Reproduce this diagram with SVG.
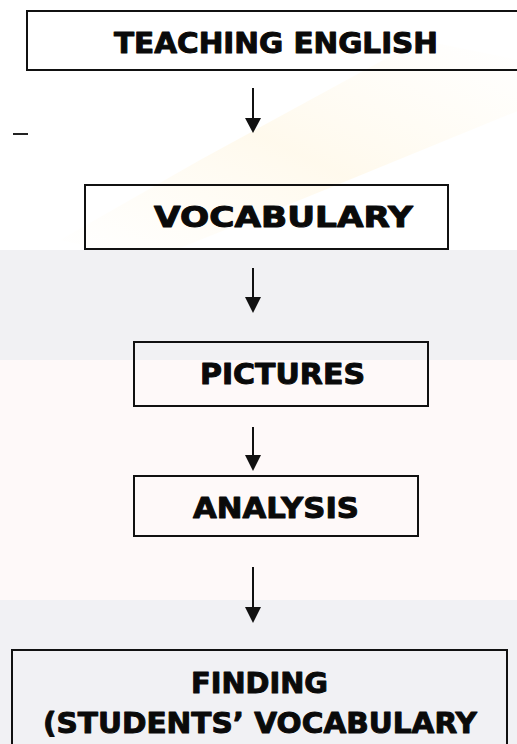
<svg xmlns="http://www.w3.org/2000/svg" width="517" height="744" viewBox="0 0 517 744">
  <defs>
    <style>
      .box { fill: none; stroke: #111; stroke-width: 2; }
      .lbl { font-family: "DejaVu Sans", "Liberation Sans", Arial, sans-serif; font-weight: bold; font-size: 29px; fill: #0a0a0a; stroke: #0a0a0a; stroke-width: 1; stroke-linejoin: round; }
      .conn { stroke: #111; stroke-width: 2; fill: none; }
      .head { fill: #111; }
    </style>
    <linearGradient id="streak" x1="0" y1="1" x2="1" y2="0">
      <stop offset="0" stop-color="#fffaee" stop-opacity="0"/>
      <stop offset="0.5" stop-color="#fff8e8" stop-opacity="0.8"/>
      <stop offset="1" stop-color="#fffaee" stop-opacity="0"/>
    </linearGradient>
  </defs>

  <!-- background watermark (faint) -->
  <g id="background">
    <rect x="0" y="0" width="517" height="744" fill="#ffffff"/>
    <polygon points="60,240 200,160 420,40 520,60 520,110 300,200 150,260" fill="url(#streak)"/>
    <rect x="0" y="250" width="517" height="110" fill="#f1f1f3"/>
    <rect x="0" y="360" width="517" height="240" fill="#fef9f9"/>
    <rect x="0" y="600" width="517" height="144" fill="#f1f1f4"/>
  </g>

  <g id="connectors">
    <line class="conn" x1="253" y1="88" x2="253" y2="119"/>
    <polygon class="head" points="245,118 261,118 253,133"/>
    <line class="conn" x1="253" y1="268" x2="253" y2="298"/>
    <polygon class="head" points="245,297 261,297 253,313"/>
    <line class="conn" x1="253" y1="427" x2="253" y2="456"/>
    <polygon class="head" points="245,455 261,455 253,471"/>
    <line class="conn" x1="253" y1="567" x2="253" y2="608"/>
    <polygon class="head" points="245,607 261,607 253,623"/>
  </g>

  <g id="dash">
    <line x1="13" y1="134" x2="28" y2="134" stroke="#222" stroke-width="2"/>
  </g>

  <g id="node-teaching">
    <rect class="box" x="27" y="11" width="500" height="59"/>
    <text class="lbl" x="114" y="53" textLength="324" lengthAdjust="spacingAndGlyphs">TEACHING ENGLISH</text>
  </g>

  <g id="node-vocabulary">
    <rect class="box" x="85" y="185" width="363" height="64"/>
    <text class="lbl" x="154" y="227" font-size="28" textLength="259" lengthAdjust="spacingAndGlyphs">VOCABULARY</text>
  </g>

  <g id="node-pictures">
    <rect class="box" x="134" y="342" width="294" height="64"/>
    <text class="lbl" x="200" y="384" textLength="165" lengthAdjust="spacingAndGlyphs">PICTURES</text>
  </g>

  <g id="node-analysis">
    <rect class="box" x="134" y="476" width="284" height="60"/>
    <text class="lbl" x="193" y="518" textLength="166" lengthAdjust="spacingAndGlyphs">ANALYSIS</text>
  </g>

  <g id="node-finding">
    <rect class="box" x="12" y="650" width="495" height="110"/>
    <text class="lbl" x="191" y="693" textLength="137" lengthAdjust="spacingAndGlyphs">FINDING</text>
    <text class="lbl" x="43" y="733" textLength="434" lengthAdjust="spacingAndGlyphs">(STUDENTS’ VOCABULARY</text>
  </g>
</svg>
